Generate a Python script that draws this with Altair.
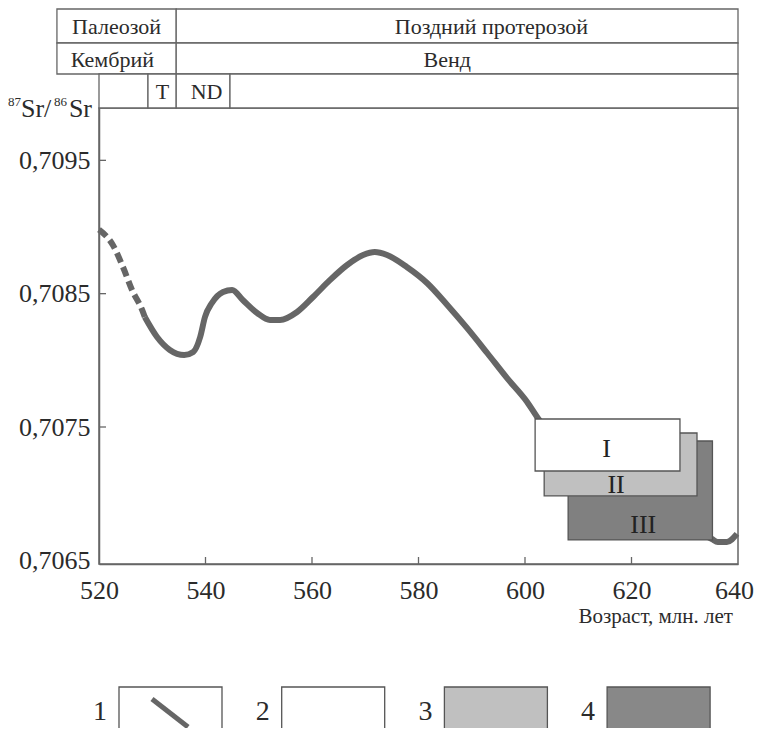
import altair as alt
import pandas as pd

FONT = "Liberation Serif"
INK = "#2b2b2b"
LINE = "#666666"
EDGE = "#555555"

# ---- data ----
curve_age = [520.0, 522.6, 524.5, 526.2, 528.1, 528.6, 530.9, 533.3, 536.0, 537.7,
             539.0, 539.9, 541.2, 543.3, 545.0, 547.0, 549.7, 552.1, 554.0, 557.2,
             560.2, 563.4, 566.6, 569.6, 571.8, 574.1, 577.8, 581.6, 585.4, 589.1,
             592.9, 596.6, 600.4, 602.4, 635.1, 636.2, 637.9, 639.8]
curve_sr = [0.70898, 0.708865, 0.70870, 0.708528, 0.708378, 0.708325, 0.708175, 0.708078, 0.708040, 0.708063,
            0.708175, 0.708325, 0.708430, 0.708513, 0.708528, 0.708453, 0.708355, 0.708303, 0.708303, 0.708363,
            0.708475, 0.708603, 0.708715, 0.708790, 0.708813, 0.708790, 0.708700, 0.708580, 0.708415, 0.708243,
            0.708055, 0.707868, 0.707688, 0.707568, 0.706660, 0.706638, 0.706638, 0.706698]
dashed_until = 528.6

box_names = ["III", "II", "I"]
box_age1 = [608.1, 603.6, 601.9]
box_age2 = [635.2, 632.3, 629.1]
box_sr1 = [0.706653, 0.706983, 0.707170]
box_sr2 = [0.707395, 0.707455, 0.707560]
box_fill = ["#808080", "#c0c0c0", "#ffffff"]
box_label_age = [622.2, 617.1, 615.3]
box_label_sr = [0.706765, 0.707067, 0.707335]

x_ticks = [520, 540, 560, 580, 600, 620, 640]
y_ticks = [0.7065, 0.7075, 0.7085, 0.7095]

row1_names = ["Палеозой", "Поздний протерозой"]
row1_a1 = [512.1, 534.5]
row1_a2 = [534.5, 640.0]
row1_lx = [523.3, 593.7]
row2_names = ["Кембрий", "Венд"]
row2_a1 = [512.1, 534.5]
row2_a2 = [534.5, 640.0]
row2_lx = [522.5, 585.4]
row3_names = ["", "T", "ND", ""]
row3_a1 = [520.0, 529.2, 534.5, 544.6]
row3_a2 = [529.2, 534.5, 544.6, 640.0]
row3_lx = [524.6, 531.9, 540.2, 592.3]

legend_labels = ["1", "2", "3", "4"]
legend_fills = ["#ffffff", "#ffffff", "#c0c0c0", "#888888"]

# ---- layout (pixels, relative to plot origin) ----
W, H = 639, 456
X_SCALE = alt.Scale(domain=[520, 640], nice=False, zero=False)
Y_SCALE = alt.Scale(domain=[0.7064725, 0.7098925], nice=False, zero=False)

curve = pd.DataFrame({"age": curve_age, "sr": curve_sr})
dashed = curve[curve.age <= dashed_until]
solid = curve[curve.age >= dashed_until]

X_AXIS = alt.Axis(values=x_ticks, format="d", labelFont=FONT, labelFontSize=26,
                  labelColor=INK, labelPadding=13, ticks=False, grid=False,
                  domainColor=LINE, domainWidth=1.5, labelFlush=False,
                  labelOffset={"condition": {"test": "datum.value == 640", "value": -4}, "value": 0},
                  labelOverlap=False, title=None)
Y_AXIS = alt.Axis(values=y_ticks, labelExpr="replace(format(datum.value, '.4f'), '.', ',')",
                  labelFont=FONT, labelFontSize=26, labelColor=INK, labelPadding=9,
                  ticks=False, grid=False, domainColor=LINE, domainWidth=1.5,
                  labelOverlap=False, title=None)


def X(field):
    return alt.X(field, scale=X_SCALE, axis=X_AXIS)


def Y(field):
    return alt.Y(field, scale=Y_SCALE, axis=Y_AXIS)


solid_line = alt.Chart(solid).mark_line(color=LINE, strokeWidth=6, interpolate="monotone",
                                        strokeCap="butt").encode(x=X("age:Q"), y=Y("sr:Q"))
dashed_line = alt.Chart(dashed).mark_line(color=LINE, strokeWidth=6, interpolate="monotone",
                                          strokeDash=[10, 5], strokeCap="butt").encode(
    x=X("age:Q"), y=Y("sr:Q"))

# inward ticks
xt = pd.DataFrame({"age": [v for v in x_ticks if 520 < v < 640]})
x_tick_marks = alt.Chart(xt).mark_rule(color=LINE, strokeWidth=1.3).encode(
    x=X("age:Q"), y=alt.value(H), y2=alt.value(H - 7))
yt = pd.DataFrame({"sr": y_ticks[1:]})
y_tick_marks = alt.Chart(yt).mark_rule(color=LINE, strokeWidth=1.3).encode(
    y=Y("sr:Q"), x=alt.value(0), x2=alt.value(7))

boxes_df = pd.DataFrame({"name": box_names, "a1": box_age1, "a2": box_age2,
                         "s1": box_sr1, "s2": box_sr2, "fill": box_fill,
                         "la": box_label_age, "ls": box_label_sr})
boxes = alt.Chart(boxes_df).mark_rect(stroke=EDGE, strokeWidth=1.3).encode(
    x=X("a1:Q"), x2="a2:Q", y=Y("s1:Q"), y2="s2:Q",
    fill=alt.Fill("fill:N", scale=None),
    order=alt.Order("ls:Q"),
)
box_labels = alt.Chart(boxes_df).mark_text(font=FONT, fontSize=26, color="#222222",
                                           baseline="middle", align="center").encode(
    x=X("la:Q"), y=Y("ls:Q"), text="name:N")

# header table
layers_header = []
row_bounds = [(-99, -65), (-65, -34), (-34, 0)]
rows = [(row1_names, row1_a1, row1_a2, row1_lx),
        (row2_names, row2_a1, row2_a2, row2_lx),
        (row3_names, row3_a1, row3_a2, row3_lx)]
for (names, a1, a2, lx), (top, bot) in zip(rows, row_bounds):
    df = pd.DataFrame({"name": names, "a1": a1, "a2": a2, "lx": lx})
    layers_header.append(alt.Chart(df).mark_rect(fill="white", stroke=LINE, strokeWidth=1.3).encode(
        x=X("a1:Q"), x2="a2:Q", y=alt.value(top), y2=alt.value(bot)))
    layers_header.append(alt.Chart(df[df.name != ""]).mark_text(
        font=FONT, fontSize=22, color=INK, baseline="middle", align="center").encode(
        x=X("lx:Q"), y=alt.value((top + bot) / 2 + 1), text="name:N"))

# y-axis title 87Sr/86Sr
one = pd.DataFrame({"k": [0]})


def txt(s, x, y, size, align="left", baseline="alphabetic"):
    return alt.Chart(one).mark_text(text=s, font=FONT, fontSize=size, color=INK,
                                    align=align, baseline=baseline).encode(
        x=alt.value(x), y=alt.value(y))


ytitle = [txt("87", -78, -2, 13, align="right"),
          txt("Sr/", -78, 9, 26),
          txt("86", -32, -2, 13, align="right"),
          txt("Sr", -7, 9, 26, align="right")]

xtitle = txt("Возраст, млн. лет", 634, 509, 21, align="right", baseline="middle")

# legend
legend_layers = []
for i, (lab, fill) in enumerate(zip(legend_labels, legend_fills)):
    x0 = 20 + 162.7 * i
    legend_layers.append(alt.Chart(one).mark_rect(fill=fill, stroke=EDGE, strokeWidth=1.3).encode(
        x=alt.value(x0), x2=alt.value(x0 + 103), y=alt.value(579), y2=alt.value(640)))
    legend_layers.append(txt(lab, x0 - 19, 604, 28, align="center", baseline="middle"))
    if i == 0:
        legend_layers.append(alt.Chart(one).mark_rule(color=LINE, strokeWidth=5).encode(
            x=alt.value(x0 + 33), x2=alt.value(x0 + 69), y=alt.value(591), y2=alt.value(619)))

chart = alt.layer(
    solid_line, dashed_line, x_tick_marks, y_tick_marks, boxes, box_labels,
    *layers_header, *ytitle, xtitle, *legend_layers
).properties(
    width=W, height=H,
    autosize=alt.AutoSizeParams(type="none"),
    padding={"left": 91, "top": 100, "right": 16, "bottom": 164},
).configure_view(stroke=LINE, strokeWidth=1.5)

chart.save("out.html", embed_options={"renderer": "svg", "actions": False})
